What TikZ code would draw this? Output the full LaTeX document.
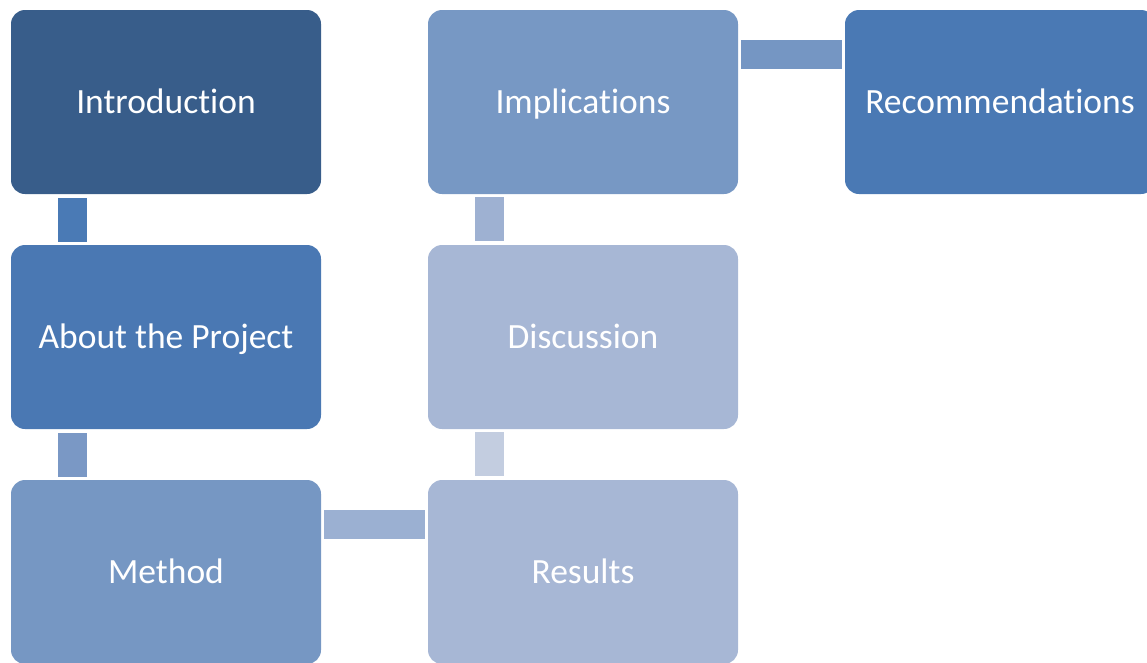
\documentclass[tikz,border=0pt]{standalone}
\usepackage{fontspec}
\setmainfont[Ligatures=NoCommon]{Carlito}
\definecolor{cIntro}{HTML}{385D8A}
\definecolor{cAbout}{HTML}{4A78B3}
\definecolor{cMethod}{HTML}{7697C3}
\definecolor{cImpl}{HTML}{7798C4}
\definecolor{cDisc}{HTML}{A7B7D5}
\definecolor{cRes}{HTML}{A7B7D5}
\definecolor{cRec}{HTML}{4A79B4}
\definecolor{kA}{HTML}{4A7AB5}
\definecolor{kB}{HTML}{7A98C5}
\definecolor{kC}{HTML}{9BB0D2}
\definecolor{kD}{HTML}{C3CDE0}
\definecolor{kE}{HTML}{9EB1D2}
\definecolor{kF}{HTML}{7596C3}
\begin{document}
\begin{tikzpicture}[x=1pt,y=-1pt,
  stagebox/.style={rectangle, rounded corners=14pt, minimum width=310pt, minimum height=184pt,
    inner sep=0pt, text=white, text height=27pt, text depth=5pt,
    font=\fontsize{35.5}{40}\selectfont},
  vlink/.style={line width=29pt, shorten <=4pt, shorten >=3pt},
  hlink/.style={line width=29pt, shorten <=3pt, shorten >=3pt}]
\useasboundingbox (0,0) rectangle (1147,662);
\clip (0,0) rectangle (1147,662);
\node[stagebox, fill=cIntro] (intro) at (166,102) {Introduction};
\node[stagebox, fill=cAbout] (about) at (166,337) {About the Project};
\node[stagebox, fill=cMethod] (method) at (166,572) {Method};
\node[stagebox, fill=cImpl] (impl) at (583,102) {Implications};
\node[stagebox, fill=cDisc] (disc) at (583,337) {Discussion};
\node[stagebox, fill=cRes] (res) at (583,572) {Results};
\node[stagebox, fill=cRec] (rec) at (1000,102) {Recommendations};
\draw[vlink, kA] ([xshift=61.5pt]intro.south west) -- ([xshift=61.5pt]about.north west);
\draw[vlink, kB] ([xshift=61.5pt]about.south west) -- ([xshift=61.5pt]method.north west);
\draw[hlink, kC] ([yshift=-44.5pt]method.north east) -- ([yshift=-44.5pt]res.north west);
\draw[vlink, kD] ([xshift=61.5pt]res.north west) -- ([xshift=61.5pt]disc.south west);
\draw[vlink, kE] ([xshift=61.5pt]disc.north west) -- ([xshift=61.5pt]impl.south west);
\draw[hlink, kF] ([yshift=-44.5pt]impl.north east) -- ([yshift=-44.5pt]rec.north west);
\end{tikzpicture}
\end{document}
